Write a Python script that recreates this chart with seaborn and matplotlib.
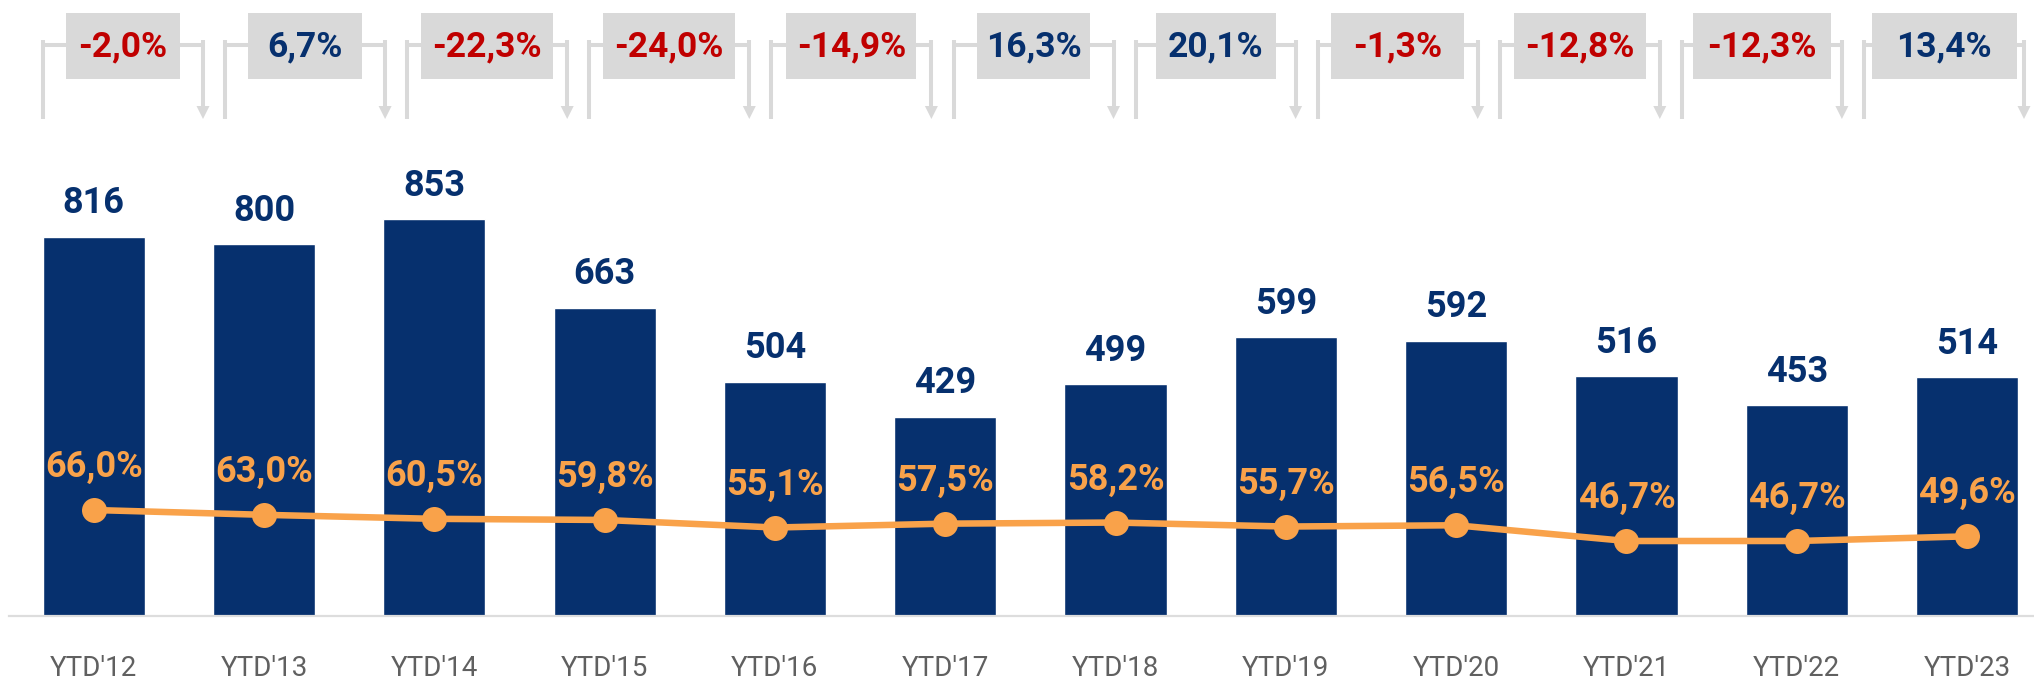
import numpy as np
import pandas as pd
import matplotlib
matplotlib.use('Agg')
import matplotlib.pyplot as plt
import seaborn as sns
from matplotlib.patches import Rectangle, Polygon

# ---------------- data ----------------
categories = ["YTD'12", "YTD'13", "YTD'14", "YTD'15", "YTD'16", "YTD'17",
              "YTD'18", "YTD'19", "YTD'20", "YTD'21", "YTD'22", "YTD'23"]
volumes = [816, 800, 853, 663, 504, 429, 499, 599, 592, 516, 453, 514]
share_pct = [66.0, 63.0, 60.5, 59.8, 55.1, 57.5, 58.2, 55.7, 56.5, 46.7, 46.7, 49.6]
yoy_change = [-2.0, 6.7, -22.3, -24.0, -14.9, 16.3, 20.1, -1.3, -12.8, -12.3, 13.4]

# ---------------- style ----------------
NAVY = '#06306E'
ORANGE = '#F9A24A'
RED = '#C00000'
GREY_BOX = '#D9D9D9'
TICK = '#606060'

sns.set_theme(style='white')
plt.rcParams['font.family'] = ['Roboto', 'DejaVu Sans']


def fmt(v):
    return f"{v:.1f}".replace('.', ',') + '%'


W, H = 2034, 683
fig = plt.figure(figsize=(W / 100, H / 100), dpi=100)

ax = fig.add_axes([9 / W, (H - 616) / H, (W - 9) / W, 516 / H])
df = pd.DataFrame({'cat': categories, 'vol': volumes})
sns.barplot(data=df, x='cat', y='vol', color=NAVY, width=0.6, saturation=1, ax=ax)
ax.set_xlim(-0.4975, 11.393)
ax.set_ylim(0, 1109.7)
for s in ['top', 'right', 'left']:
    ax.spines[s].set_visible(False)
ax.spines['bottom'].set_color('#DDDDDD')
ax.spines['bottom'].set_linewidth(1.6)
ax.set_yticks([])
ax.set_xlabel('')
ax.set_ylabel('')
ax.tick_params(axis='x', length=0, pad=28, labelsize=20, labelcolor=TICK)

for i, v in enumerate(volumes):
    ax.annotate(f"{v}", xy=(i, v), xytext=(0, 24), textcoords='offset points',
                ha='center', va='center', fontsize=26, fontweight='bold', color=NAVY)

ax2 = ax.twinx()
sns.lineplot(x=np.arange(len(categories)), y=share_pct, ax=ax2, color=ORANGE,
             lw=4.7, marker='o', markersize=18, markeredgewidth=0)
ax2.set_ylim(0, 321.3)
ax2.set_xlim(ax.get_xlim())
ax2.axis('off')
for i, p in enumerate(share_pct):
    ax2.annotate(fmt(p), xy=(i, p), xytext=(0, 31), textcoords='offset points',
                 ha='center', va='center', fontsize=26, fontweight='bold', color=ORANGE)

# ---------------- top YoY brackets ----------------
ov = fig.add_axes([0, 0, 1, 1])
ov.set_xlim(0, W)
ov.set_ylim(H, 0)
ov.axis('off')
ov.patch.set_alpha(0)

first_left, step, span = 43, 182.1, 160
y_top, y_bot, y_h = 40, 119, 45
box_widths = [114, 114, 132, 132, 130, 113, 120, 133, 132, 138, 145]
box_y0, box_h = 13, 66
lw = 2.9
for i, c in enumerate(yoy_change):
    L = first_left + i * step
    R = L + span
    cx = (L + R) / 2
    ov.plot([L, L], [y_top, y_bot], color=GREY_BOX, lw=lw, solid_capstyle='butt', zorder=1)
    ov.plot([L, R], [y_h, y_h], color=GREY_BOX, lw=lw, solid_capstyle='butt', zorder=1)
    ov.plot([R, R], [y_top, y_bot - 10], color=GREY_BOX, lw=lw, solid_capstyle='butt', zorder=1)
    ov.add_patch(Polygon([[R - 6.5, y_bot - 13], [R + 6.5, y_bot - 13], [R, y_bot]],
                         closed=True, color=GREY_BOX, lw=0, zorder=1))
    bw = box_widths[i]
    ov.add_patch(Rectangle((cx - bw / 2, box_y0), bw, box_h, color=GREY_BOX, lw=0, zorder=3))
    ov.text(cx, 47, fmt(c), ha='center', va='center', fontsize=25.5, fontweight='bold',
            color=RED if c < 0 else NAVY, zorder=4)

fig.savefig('out.png', dpi=100)
